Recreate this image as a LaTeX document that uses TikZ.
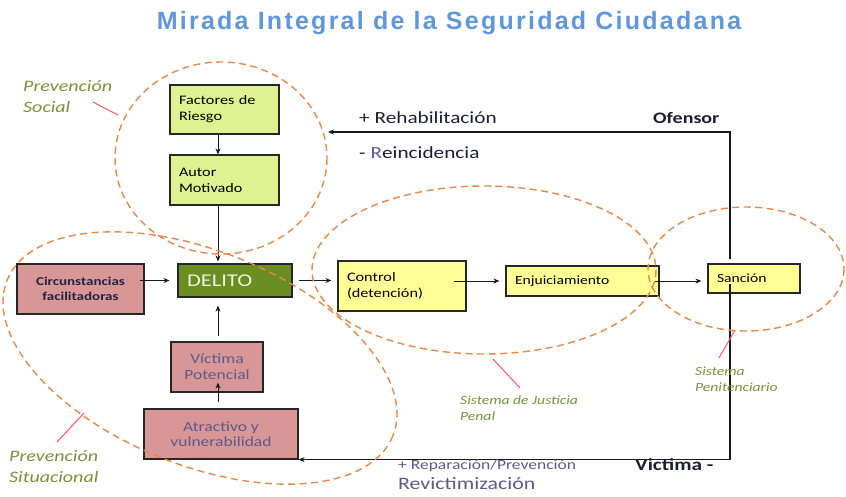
\documentclass[tikz,border=0pt]{standalone}
\usepackage{fontspec}
\setmainfont{Carlito}[FakeStretch=1.25]
\newfontfamily\titlefont{Liberation Sans}[LetterSpace=9]
\usetikzlibrary{arrows.meta}
\definecolor{titleblue}{RGB}{95,150,220}
\definecolor{zoneorange}{RGB}{230,135,75}
\definecolor{pointred}{RGB}{250,85,100}
\definecolor{labelgreen}{RGB}{118,146,60}
\definecolor{limebox}{RGB}{222,242,145}
\definecolor{yellowbox}{RGB}{255,255,150}
\definecolor{pinkbox}{RGB}{217,150,150}
\definecolor{delitogreen}{RGB}{107,142,35}
\definecolor{delitotext}{RGB}{235,245,215}
\definecolor{darktext}{RGB}{30,30,50}
\definecolor{navytext}{RGB}{35,35,70}
\definecolor{slatetext}{RGB}{90,90,140}
\begin{document}
\begin{tikzpicture}[x=1pt,y=-1pt,
  box/.style={draw=black!85,line width=1.2pt,inner sep=0pt,font=\fontsize{12.5}{15}\selectfont},
  lbox/.style={box,align=left,inner xsep=9pt},
  cbox/.style={box,align=center},
  arr/.style={draw=black!90,line width=1pt,-{Stealth[length=6pt,width=5pt]}},
  back/.style={arr,line width=1.2pt},
  zone/.style={draw=zoneorange,line width=1.4pt,dash pattern=on 7pt off 4.5pt},
  ptr/.style={draw=pointred,line width=1pt},
  zlabel/.style={anchor=west,inner sep=0pt,align=left,text=labelgreen,font=\itshape\fontsize{16}{21}\selectfont},
  txt/.style={anchor=west,inner sep=0pt,text=darktext,font=\fontsize{17}{19}\selectfont}]
\useasboundingbox (0,0) rectangle (846,496);
\node[text=titleblue,font=\titlefont\bfseries\fontsize{25}{29}\selectfont] (title) at (449,23) {Mirada Integral de la Seguridad Ciudadana};

\node[lbox,fill=limebox,text width=91pt,minimum height=49pt,font=\fontsize{13}{16}\selectfont] (fact) at (224.5,109.5) {Factores de\\Riesgo};
\node[lbox,fill=limebox,text width=91pt,minimum height=50pt,font=\fontsize{13}{16}\selectfont] (autor) at (224.5,180) {Autor\\Motivado};
\node[lbox,fill=delitogreen,text width=96pt,minimum height=33pt,text=delitotext,font=\fontsize{18}{20}\selectfont] (delito) at (235,280.5) {DELITO};
\node[cbox,fill=pinkbox,minimum width=127pt,minimum height=50pt,text=navytext,font=\bfseries\fontsize{12}{15}\selectfont] (circ) at (80.5,289) {Circunstancias\\facilitadoras};
\node[cbox,fill=pinkbox,minimum width=92pt,minimum height=50pt,text=slatetext,font=\fontsize{14}{16}\selectfont] (victima) at (217,367) {Víctima\\Potencial};
\node[cbox,fill=pinkbox,minimum width=154pt,minimum height=50pt,text=slatetext,font=\fontsize{14}{15}\selectfont] (atrac) at (221,434) {Atractivo y\\vulnerabilidad};
\node[lbox,fill=yellowbox,text width=110pt,minimum height=50pt,font=\fontsize{13}{16}\selectfont] (control) at (402,286) {Control\\(detención)};
\node[lbox,fill=yellowbox,text width=135pt,minimum height=30pt] (enjui) at (582.5,281) {Enjuiciamiento};
\node[lbox,fill=yellowbox,text width=74pt,minimum height=29pt] (sancion) at (754,278.5) {Sanción};

\coordinate (axis) at (218,0);
\coordinate (ret) at (730,0);
\coordinate (ofe) at (328,132);
\draw[arr] (fact.south -| axis) -- (autor.north -| axis);
\draw[arr,shorten >=2pt] (autor.south -| axis) -- (delito.north -| axis);
\draw[arr,shorten <=5pt,shorten >=8pt] (victima.north -| axis) -- (delito.south -| axis);
\draw[arr,shorten <=6pt,shorten >=-10pt] (atrac.north -| axis) -- (victima.south -| axis);
\draw[arr,shorten <=-5pt,shorten >=8pt] (circ.east |- delito) -- (delito.west);
\draw[arr,shorten <=6pt,shorten >=6pt] (delito.east) -- (control.west |- delito);
\draw[arr,shorten <=-13pt,shorten >=6pt] (control.east |- enjui) -- (enjui.west);
\draw[arr,shorten <=-5pt,shorten >=6pt] (enjui.east) -- (sancion.west |- enjui);
\draw[back,shorten <=4pt] (sancion.north -| ret) |- (ofe);
\draw[back,shorten <=-10pt] (sancion.south -| ret) |- (atrac.south east);

\node[txt] (rehab) at (359,118) {+ Rehabilitación};
\node[txt] (reinc) at (359,153) {- {\color{slatetext}R}eincidencia};
\node[txt,font=\bfseries\fontsize{16}{19}\selectfont] (ofensor) at (653,118) {Ofensor};
\node[txt,text=slatetext,font=\fontsize{14}{16}\selectfont] (repar) at (398,466) {+ Reparación/Prevención};
\node[txt,font=\bfseries\fontsize{17}{20}\selectfont] (victlbl) at (635,465) {Victima -};
\node[txt,text=slatetext,font=\fontsize{17.5}{20}\selectfont] (revict) at (398,484) {Revictimización};

\draw[zone] (221,158) ellipse (106 and 96);
\draw[zone,rotate around={-22:(200,358)}] (200,358) ellipse (208 and 107);
\draw[zone] (484,270) ellipse (172 and 84);
\draw[zone] (746,269) ellipse (98 and 62);

\coordinate (ps1) at (93,102); \coordinate (ps2) at (118,115);
\coordinate (pt1) at (57,442); \coordinate (pt2) at (84,413);
\coordinate (pj1) at (520,388); \coordinate (pj2) at (493,359);
\coordinate (pp1) at (719,358); \coordinate (pp2) at (735,330);
\draw[ptr] (ps1) -- (ps2);
\draw[ptr] (pt1) -- (pt2);
\draw[ptr] (pj1) -- (pj2);
\draw[ptr] (pp1) -- (pp2);

\node[zlabel] (psoc) at (23,96.5) {Prevención\\Social};
\node[zlabel] (psit) at (9,466.5) {Prevención\\Situacional};
\node[zlabel,font=\itshape\fontsize{12.5}{16}\selectfont] (sjp) at (460,408) {Sistema de Justicia\\Penal};
\node[zlabel,font=\itshape\fontsize{12.5}{16}\selectfont] (spen) at (695,379) {Sistema\\Penitenciario};
\end{tikzpicture}
\end{document}
